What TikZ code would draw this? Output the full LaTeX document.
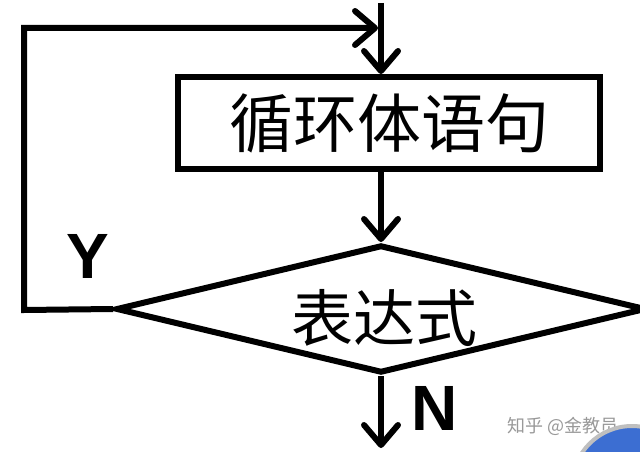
\documentclass[tikz,border=0pt]{standalone}
\usepackage{fontspec}
\newfontfamily\cjk{Noto Sans CJK SC}
\newfontfamily\latin{Liberation Sans}
\usetikzlibrary{arrows.meta,shapes.geometric}
\tikzset{
  every picture/.style={x=1pt,y=-1pt},
  flow/.style={line width=6pt,line join=miter,black},
  arr/.style={flow,-{Straight Barb[length=20pt,width=34pt,line width=6pt,round]}},
  stmt/.style={draw,line width=6pt,minimum width=422pt,minimum height=92pt,inner sep=0pt,font=\cjk\fontsize{64}{64}\selectfont},
  cond/.style={draw,diamond,line width=6pt,minimum width=530pt,minimum height=128pt,aspect=4.1,inner sep=0pt},
  yn/.style={font=\latin\bfseries\fontsize{64}{64}\selectfont},
  wm/.style={font=\cjk\fontsize{18}{18}\selectfont,text=black!40}
}
\begin{document}
\begin{tikzpicture}
\useasboundingbox (0,0) rectangle (640,452);
\clip (0,0) rectangle (640,452);
\fill[white] (0,0) rectangle (640,452);
\node[stmt] (box) at (389,123) {循环体语句};
\node[cond] (dia) at (381,309) {};
\node[font=\cjk\fontsize{62}{62}\selectfont] (cond-text) at (384,318) {表达式};
\coordinate (top) at (381,3);
\coordinate (corner) at (24,28);
\coordinate (lowcorner) at (24,310);
\coordinate (bottom) at (381,448);
\coordinate (loopend) at (378,28);
\draw[arr] (top) -- (top |- box.north);
\draw[arr] (box.south -| top) -- (dia.north);
\draw[arr] (dia.south) -- (bottom);
\draw[arr] (dia.west) -- (lowcorner) -- (corner) -- (loopend);
\node[yn] (Y) at (88,256) {Y};
\node[yn] (N) at (435,408) {N};
\node[wm] (mark) at (563,426) {知乎 @金教员};
\draw[line width=4pt,draw=black!25,fill={rgb,255:red,60;green,110;blue,210}] (632,486) circle (60);
\end{tikzpicture}
\end{document}
